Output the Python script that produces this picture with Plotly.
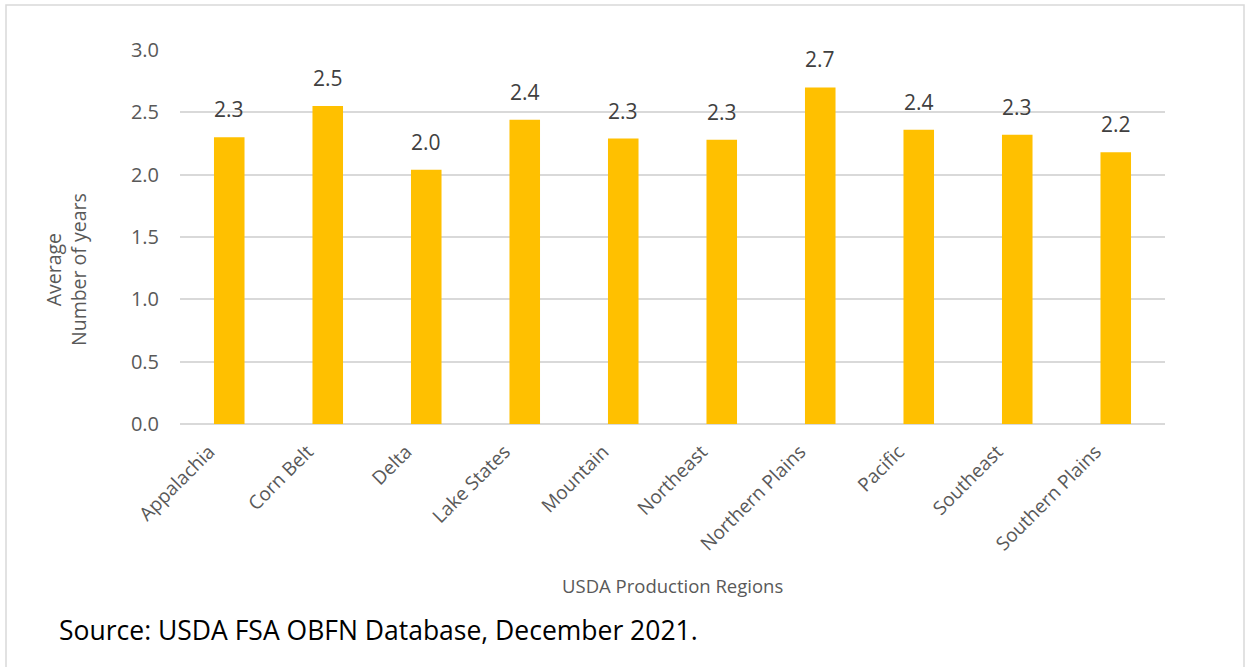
import plotly.graph_objects as go

regions = ["Appalachia", "Corn Belt", "Delta", "Lake States", "Mountain",
           "Northeast", "Northern Plains", "Pacific", "Southeast", "Southern Plains"]
avg_years = [2.30, 2.55, 2.04, 2.44, 2.29, 2.28, 2.70, 2.36, 2.32, 2.18]
y_ticks = [0.0, 0.5, 1.0, 1.5, 2.0, 2.5, 3.0]

W, H = 1253, 667
L, R, T, B = 180, 1165, 50, 424
pw, ph = R - L, B - T

def px(x):
    return (x - L) / pw

def py(y):
    return (B - y) / ph

FONT = "Open Sans"
fig = go.Figure()
fig.add_trace(go.Bar(
    x=regions, y=avg_years, width=0.31,
    marker=dict(color="#FFC000", line=dict(width=0)),
    hoverinfo="x+y",
))

annotations = [
    dict(x=r, y=v, xref="x", yref="y", text=f"{v:.1f}", showarrow=False,
         xanchor="center", yanchor="bottom", yshift=12,
         font=dict(family=FONT, size=21, color="#404040"))
    for r, v in zip(regions, avg_years)
]
annotations += [
    dict(text="USDA Production Regions", xref="paper", yref="paper",
         x=px(672), y=py(585), xanchor="center", yanchor="middle", showarrow=False,
         font=dict(family=FONT, size=18.5, color="#595959")),
    dict(text="Average<br>Number of years", xref="paper", yref="paper",
         x=px(66), y=py(270), xanchor="center", yanchor="middle",
         showarrow=False, textangle=-90,
         font=dict(family=FONT, size=19.5, color="#595959")),
    dict(text="Source: USDA FSA OBFN Database, December 2021.", xref="paper", yref="paper",
         x=px(57), y=py(630), xanchor="left", yanchor="middle", showarrow=False,
         font=dict(family=FONT, size=26.5, color="#000000")),
]

fig.update_layout(
    width=W, height=H,
    margin=dict(l=L, r=W - R, t=T, b=H - B),
    paper_bgcolor="white", plot_bgcolor="white",
    showlegend=False,
    font=dict(family=FONT, color="#595959"),
    xaxis=dict(tickangle=-45, tickfont=dict(size=19, color="#595959"),
               showgrid=False, showline=False, ticks="", ticklabelstandoff=12,
               ticklabelshift=-20),
    yaxis=dict(range=[0, 3.0], tickvals=y_ticks, tickformat=".1f",
               tickfont=dict(size=20, color="#595959"),
               gridcolor="#D9D9D9", gridwidth=1.5, zeroline=True,
               zerolinecolor="#D9D9D9", zerolinewidth=1.5,
               showline=False, ticks="", ticklen=0, ticklabelstandoff=20),
    shapes=[dict(type="rect", xref="paper", yref="paper",
                 x0=px(6), x1=px(1244), y0=py(700), y1=py(5),
                 line=dict(color="#D9D9D9", width=1.5), fillcolor="rgba(0,0,0,0)",
                 layer="below")],
    annotations=annotations,
)

fig.write_html("out.html", config={"displayModeBar": False},
               post_script="document.body.style.margin='0';")
